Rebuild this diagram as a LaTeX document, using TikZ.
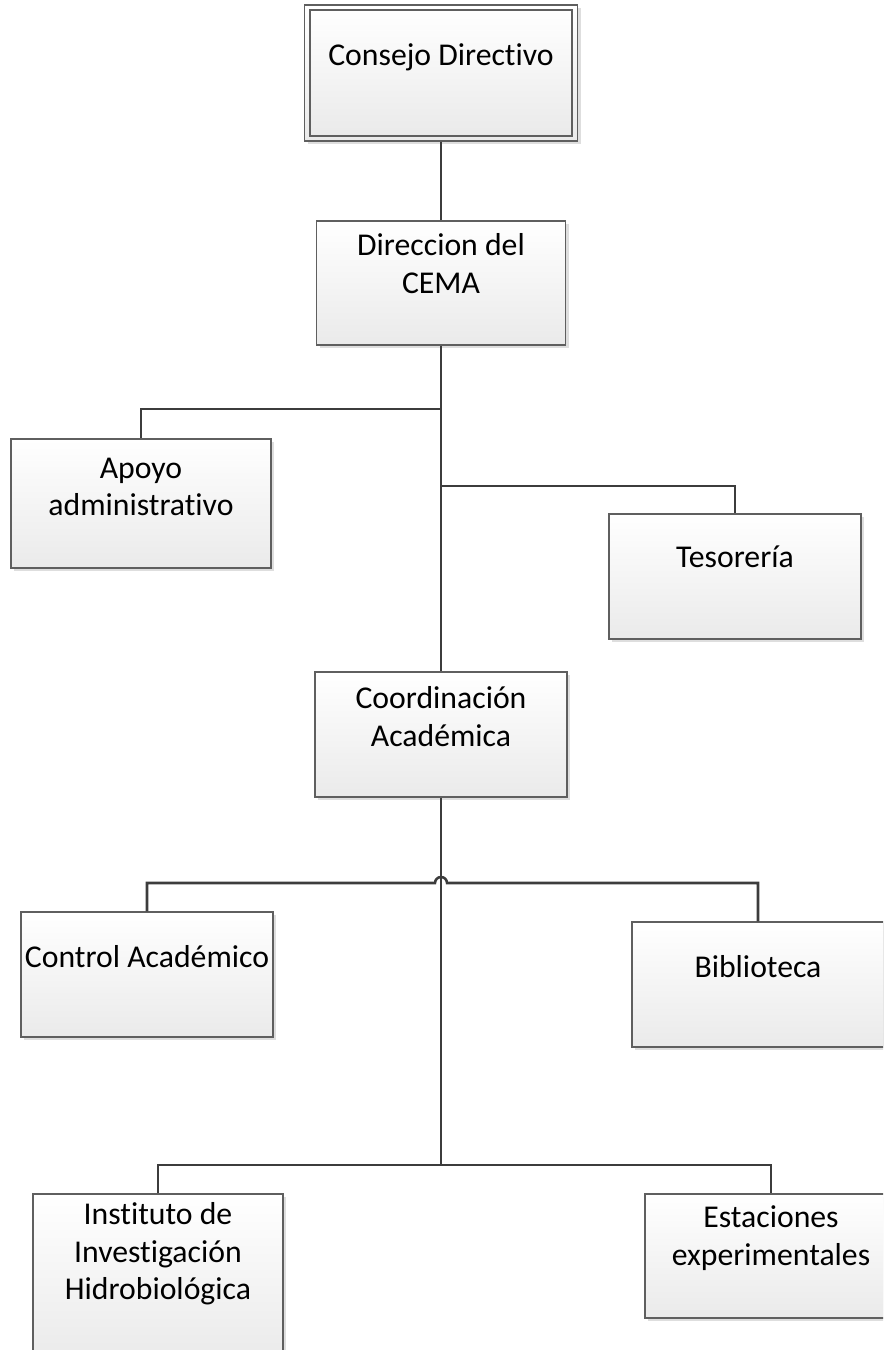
\documentclass[tikz,border=0pt]{standalone}
\usepackage{fontspec}
\setmainfont{Carlito}[Ligatures=NoCommon]
\usetikzlibrary{shadows}
\definecolor{boxbot}{RGB}{234,234,234}
\definecolor{boxline}{RGB}{95,95,95}
\definecolor{connc}{RGB}{60,60,60}
\definecolor{shadowc}{RGB}{222,222,222}
\tikzset{
  orgbox/.style={draw=boxline, line width=0.8pt, top color=white, bottom color=boxbot,
    inner sep=0pt, drop shadow={shadow xshift=2.4pt, shadow yshift=-2.4pt, fill=shadowc, opacity=1}},
  plainbox/.style={draw=boxline, line width=0.8pt, top color=white, bottom color=boxbot, inner sep=0pt},
  lbl/.style={font=\fontsize{23.8pt}{28.2pt}\selectfont, align=center, inner sep=0pt, text=black},
  conn/.style={draw=connc, line width=1.9pt}
}
\begin{document}
\begin{tikzpicture}[x=0.75pt,y=-0.75pt]
\useasboundingbox (0,0) rectangle (883,1350);
\begin{scope}
\clip (0,0) rectangle (883,1350);
% boxes
\node[orgbox, minimum width=204.75pt, minimum height=102pt] (cdo) at (441,73) {};
\node[plainbox, minimum width=196.5pt, minimum height=94.5pt] (cd) at (441,73) {};
\node[orgbox, minimum width=186.75pt, minimum height=93pt] (dir) at (441,283) {};
\node[orgbox, minimum width=195pt, minimum height=96.75pt] (apoyo) at (141,503.5) {};
\node[orgbox, minimum width=189pt, minimum height=93.75pt] (tes) at (735,576.5) {};
\node[orgbox, minimum width=189pt, minimum height=93.75pt] (coord) at (441,734.5) {};
\node[orgbox, minimum width=189pt, minimum height=93.75pt] (ctrl) at (147,974.5) {};
\node[orgbox, minimum width=189pt, minimum height=93.75pt] (bib) at (758,984.5) {};
\node[orgbox, minimum width=187.5pt, minimum height=126pt] (inst) at (158,1278) {};
\node[orgbox, minimum width=189pt, minimum height=93pt] (est) at (771,1256) {};
% labels
\node[lbl] (tcd) at (441,57) {Consejo Directivo};
\node[lbl] (tdir) at (441,263.5) {Direccion del\\CEMA};
\node[lbl] (tapoyo) at (141,487) {Apoyo\\administrativo};
\node[lbl] (ttes) at (735,557) {Tesorería};
\node[lbl] (tcoord) at (441,716.5) {Coordinación\\Académica};
\node[lbl] (tctrl) at (147,957) {Control Académico};
\node[lbl] (tbib) at (758,967) {Biblioteca};
\node[lbl] (tinst) at (158,1254) {Instituto de\\Investigación\\Hidrobiológica};
\node[lbl] (test) at (771,1238) {Estaciones\\experimentales};
% connectors
\coordinate (ja) at (441,409);
\coordinate (jt) at (441,486);
\coordinate (hopL) at (435,883);
\coordinate (jb) at (441,1165);
\draw[conn] (cdo.south) -- (dir.north);
\draw[conn] (dir.south) -- (coord.north);
\draw[conn] (ja) -| (apoyo.north);
\draw[conn] (jt) -| (tes.north);
\draw[conn] (coord.south) -- (jb);
\draw[conn] (ctrl.north) |- (hopL) arc[start angle=180, end angle=360, radius=6] -| (bib.north);
\draw[conn] (inst.north) |- (jb) -| (est.north);
\end{scope}
\end{tikzpicture}
\end{document}
